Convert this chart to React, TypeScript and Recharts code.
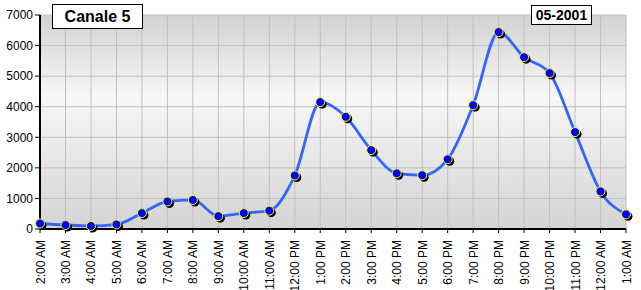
import { LineChart, Line, XAxis, YAxis, CartesianGrid } from 'recharts';

const hours = [
  '2:00 AM', '3:00 AM', '4:00 AM', '5:00 AM', '6:00 AM', '7:00 AM', '8:00 AM', '9:00 AM',
  '10:00 AM', '11:00 AM', '12:00 PM', '1:00 PM', '2:00 PM', '3:00 PM', '4:00 PM', '5:00 PM',
  '6:00 PM', '7:00 PM', '8:00 PM', '9:00 PM', '10:00 PM', '11:00 PM', '12:00 AM', '1:00 AM',
];

const viewers = [
  180, 130, 100, 150, 520, 900, 950, 420,
  520, 600, 1750, 4150, 3670, 2580, 1820, 1760,
  2280, 4050, 6440, 5620, 5100, 3170, 1230, 480,
];

const yTicks = [0, 1000, 2000, 3000, 4000, 5000, 6000, 7000];

const data = hours.map((h, i) => ({ hour: h, value: viewers[i] }));

const FONT = '"Liberation Sans", Arial, sans-serif';

function Dot(props: any) {
  const { cx, cy } = props;
  if (cx == null || cy == null) return null;
  return (
    <g>
      <circle cx={cx + 2} cy={cy + 2} r={4.5} fill="#000" />
      <circle cx={cx} cy={cy} r={4.5} fill="#0000ff" stroke="#ffff00" strokeWidth={1} />
    </g>
  );
}

function HourTick(props: any) {
  const { x, y, payload } = props;
  return (
    <text
      x={0}
      y={0}
      transform={`translate(${x + 4.5},${y + 5}) rotate(-90)`}
      textAnchor="end"
      fontSize={12}
      fontFamily={FONT}
      fill="#000"
    >
      {payload.value}
    </text>
  );
}

export default function App() {
  return (
    <div style={{ position: 'absolute', left: 0, top: 0, width: 641, height: 290, background: '#fff' }}>
      <LineChart width={641} height={290} data={data} margin={{ top: 15, right: 15, bottom: 0, left: 0 }}>
        <defs>
          <linearGradient id="plotBg" x1="0" y1="0" x2="0" y2="1">
            <stop offset="0%" stopColor="#d2d2d2" />
            <stop offset="38%" stopColor="#f7f7f7" />
            <stop offset="100%" stopColor="#d4d4d4" />
          </linearGradient>
        </defs>
        <CartesianGrid stroke="#c0c0c0" strokeWidth={1} fill="url(#plotBg)" fillOpacity={1} />
        <XAxis
          dataKey="hour"
          interval={0}
          height={61}
          tick={<HourTick />}
          tickSize={4}
          axisLine={{ stroke: '#000', strokeWidth: 2 }}
          tickLine={{ stroke: '#000' }}
        />
        <YAxis
          domain={[0, 7000]}
          ticks={yTicks}
          width={40}
          tickSize={5}
          tick={{ fontSize: 12, fontFamily: FONT, fill: '#000' }}
          axisLine={{ stroke: '#000', strokeWidth: 2 }}
          tickLine={{ stroke: '#000' }}
        />
        <Line
          type="monotone"
          dataKey="value"
          stroke="#3366ff"
          strokeWidth={2.8}
          dot={<Dot />}
          activeDot={false}
          isAnimationActive={false}
        />
      </LineChart>
      <div
        style={{
          position: 'absolute', left: 52, top: 4, width: 89, height: 23, border: '1px solid #000',
          background: '#fff', fontFamily: FONT, fontWeight: 'bold', fontSize: 16, lineHeight: '23px',
          textAlign: 'center',
        }}
      >
        Canale 5
      </div>
      <div
        style={{
          position: 'absolute', left: 531, top: 5, width: 59, height: 18, border: '1px solid #000',
          background: '#fff', fontFamily: FONT, fontWeight: 'bold', fontSize: 14, lineHeight: '18px',
          textAlign: 'center',
        }}
      >
        05-2001
      </div>
    </div>
  );
}
